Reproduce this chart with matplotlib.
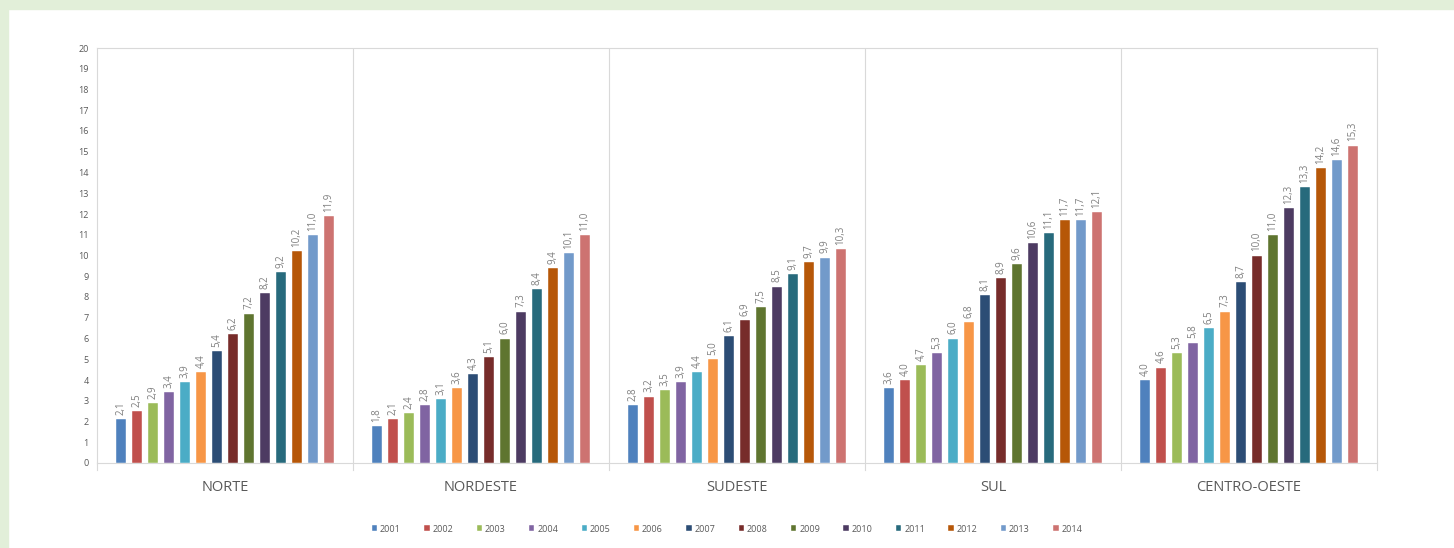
import numpy as np
import matplotlib
matplotlib.use("Agg")
import matplotlib.pyplot as plt
from matplotlib.patches import Rectangle

regions = ["NORTE", "NORDESTE", "SUDESTE", "SUL", "CENTRO-OESTE"]
years = [str(y) for y in range(2001, 2015)]

norte = [2.1, 2.5, 2.9, 3.4, 3.9, 4.4, 5.4, 6.2, 7.2, 8.2, 9.2, 10.2, 11.0, 11.9]
nordeste = [1.8, 2.1, 2.4, 2.8, 3.1, 3.6, 4.3, 5.1, 6.0, 7.3, 8.4, 9.4, 10.1, 11.0]
sudeste = [2.8, 3.2, 3.5, 3.9, 4.4, 5.0, 6.1, 6.9, 7.5, 8.5, 9.1, 9.7, 9.9, 10.3]
sul = [3.6, 4.0, 4.7, 5.3, 6.0, 6.8, 8.1, 8.9, 9.6, 10.6, 11.1, 11.7, 11.7, 12.1]
centro_oeste = [4.0, 4.6, 5.3, 5.8, 6.5, 7.3, 8.7, 10.0, 11.0, 12.3, 13.3, 14.2, 14.6, 15.3]

colors = ["#4F81BD", "#C0504D", "#9BBB59", "#8064A2", "#4BACC6", "#F79646",
          "#2C4D75", "#772C2A", "#5F7530", "#4D3B62", "#276A7C", "#B65708",
          "#729ACA", "#CD7371"]

data = np.array([norte, nordeste, sudeste, sul, centro_oeste])

plt.rcParams['font.family'] = ['Open Sans', 'DejaVu Sans']

fig = plt.figure(figsize=(14.54, 5.48), dpi=100)
fig.patch.set_facecolor("white")
# light green frame of the page
fig.patches.append(Rectangle((0, 0), 8 / 1454, 1, transform=fig.transFigure,
                             color="#e2efd9", zorder=0))
fig.patches.append(Rectangle((0, 1 - 9 / 548), 1, 9 / 548, transform=fig.transFigure,
                             color="#e2efd9", zorder=0))

ax = fig.add_axes([97 / 1454, 1 - 463 / 548, 1280 / 1454, 415 / 548])

step = 0.0625
bw = 0.58 * step
x0 = np.arange(len(regions))
offsets = (np.arange(len(years)) - (len(years) - 1) / 2) * step

for j, yr in enumerate(years):
    xs = x0 + offsets[j]
    vals = data[:, j]
    ax.bar(xs, vals, width=bw, color=colors[j], label=yr, zorder=3,
           edgecolor="white", linewidth=0.3)
    for x, v in zip(xs, vals):
        ax.text(x, v + 0.2, f"{v:.1f}".replace(".", ","), rotation=90,
                ha="center", va="bottom", fontsize=7, color="#7f7f7f")

ax.set_xlim(-0.5, len(regions) - 0.5)
ax.set_ylim(0, 20)
ax.set_yticks(range(0, 21))
ax.tick_params(axis="y", length=0, labelsize=6.5, labelcolor="#595959", pad=6)
ax.set_xticks(x0)
ax.set_xticklabels(regions, fontsize=10.5, color="#595959")
ax.tick_params(axis="x", length=0, pad=12)

for s in ax.spines.values():
    s.set_color("#d9d9d9")
    s.set_linewidth(0.8)

for b in np.arange(0.5, len(regions) - 0.5, 1):
    ax.axvline(b, color="#d9d9d9", lw=0.8, zorder=1)
for b in np.arange(-0.5, len(regions), 1):
    ax.plot([b, b], [0, -0.35], color="#d9d9d9", lw=0.8, clip_on=False)

leg = fig.legend(loc="center", bbox_to_anchor=(0.5, 1 - 529 / 548), ncol=14,
                 frameon=False, fontsize=6.5, handlelength=0.6, handleheight=0.6,
                 handletextpad=0.3, columnspacing=2.6)
for t in leg.get_texts():
    t.set_color("#595959")

fig.savefig("out.png", dpi=100)
